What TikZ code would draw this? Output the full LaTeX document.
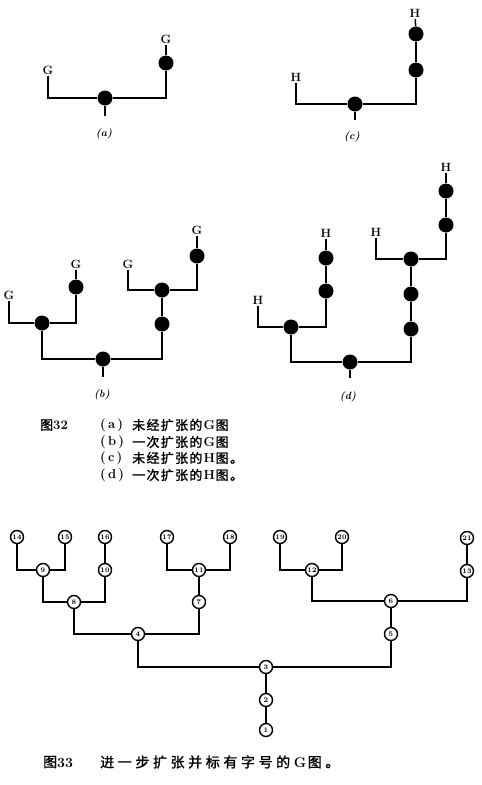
\documentclass[tikz,border=0pt]{standalone}
\usepackage{fontspec}
\newfontfamily\cjk[FakeBold=1.5]{Noto Sans CJK SC}
\newcommand\ca[1]{\makebox[14.3pt][l]{#1}}
\newcommand\cb[1]{\makebox[17.6pt][l]{#1}}
\begin{document}
\begin{tikzpicture}[x=1pt,y=-1pt,
  dot/.style={circle, fill=black, inner sep=0pt, minimum size=15pt},
  lbl/.style={font=\bfseries\fontsize{12}{12}\selectfont, inner sep=1.5pt},
  sub/.style={font=\bfseries\itshape\fontsize{10.5}{10.5}\selectfont, inner sep=0pt},
  num/.style={circle, draw, line width=1.4pt, inner sep=0pt, minimum size=13pt, font=\bfseries\fontsize{7}{7}\selectfont},
  wire/.style={line width=1.5pt},
  capa/.style={anchor=west, inner sep=0pt, font=\cjk\fontsize{13}{13}\selectfont},
  capb/.style={anchor=west, inner sep=0pt, font=\cjk\fontsize{14}{14}\selectfont},
  paren/.style={anchor=west, inner sep=0pt, font=\bfseries\fontsize{13}{13}\selectfont}]
\useasboundingbox (0,0) rectangle (482,785);

% ---------- (a)
\node[lbl] (Ga1) at (48,70) {G};
\node[dot] (a1) at (105,98) {};
\node[dot] (a2) at (166,63) {};
\node[lbl] (Ga2) at (166,39) {G};
\coordinate (a0) at (105,116);
\node[sub] (la) at (104,134) {(a)};
\draw[wire] (Ga1) |- (a1);
\draw[wire] (a1) -| (a2);
\draw[wire] (a2) -- (Ga2);
\draw[wire] (a1) -- (a0);

% ---------- (c)
\node[lbl] (Hc1) at (296,77) {H};
\node[dot] (c1) at (355,104) {};
\node[dot] (c2) at (416,70) {};
\node[dot] (c3) at (416,34) {};
\node[lbl] (Hc2) at (415,13) {H};
\coordinate (c0) at (355,120);
\node[sub] (lc) at (352,137) {(c)};
\draw[wire] (Hc1) |- (c1);
\draw[wire] (c1) -| (c2);
\draw[wire] (c2) -- (c3);
\draw[wire] (c3) -- (Hc2);
\draw[wire] (c1) -- (c0);

% ---------- (b)
\node[lbl] (Gb1) at (9,295) {G};
\node[lbl] (Gb2) at (76,264) {G};
\node[lbl] (Gb3) at (128,264) {G};
\node[lbl] (Gb4) at (197,230) {G};
\node[dot] (b1) at (42,323) {};
\node[dot] (b2) at (76,287) {};
\node[dot] (b3) at (103,359) {};
\node[dot] (b4) at (162,324) {};
\node[dot] (b5) at (162,290) {};
\node[dot] (b6) at (197,256) {};
\coordinate (b0) at (103,377);
\node[sub] (lb) at (102,395) {(b)};
\draw[wire] (Gb1) |- (b1);
\draw[wire] (b1) -| (b2);
\draw[wire] (b2) -- (Gb2);
\draw[wire] (b1) |- (b3);
\draw[wire] (b3) -| (b4);
\draw[wire] (b4) -- (b5);
\draw[wire] (Gb3) |- (b5);
\draw[wire] (b5) -| (b6);
\draw[wire] (b6) -- (Gb4);
\draw[wire] (b3) -- (b0);

% ---------- (d)
\node[lbl] (Hd0) at (258,300) {H};
\node[lbl] (Hd1) at (326,233) {H};
\node[lbl] (Hd2) at (376,232) {H};
\node[lbl] (Hd3) at (446,167) {H};
\node[dot] (d1) at (291,327) {};
\node[dot] (d2) at (326,291) {};
\node[dot] (d3) at (326,258) {};
\node[dot] (d4) at (350,362) {};
\node[dot] (d5) at (411,329) {};
\node[dot] (d6) at (411,294) {};
\node[dot] (d7) at (411,259) {};
\node[dot] (d8) at (446,225) {};
\node[dot] (d9) at (446,191) {};
\coordinate (d0) at (350,378);
\node[sub] (ld) at (348,397) {(d)};
\draw[wire] (Hd0) |- (d1);
\draw[wire] (d1) -| (d2);
\draw[wire] (d2) -- (d3);
\draw[wire] (d3) -- (Hd1);
\draw[wire] (d1) |- (d4);
\draw[wire] (d4) -| (d5);
\draw[wire] (d5) -- (d6);
\draw[wire] (d6) -- (d7);
\draw[wire] (Hd2) |- (d7);
\draw[wire] (d7) -| (d8);
\draw[wire] (d8) -- (d9);
\draw[wire] (d9) -- (Hd3);
\draw[wire] (d4) -- (d0);

% ---------- caption 32
\node[capa] (f32) at (40,425) {图\rmfamily\bfseries 32};
\node[paren] (pa) at (100,425) {(\,a\,)};
\node[paren] (pb) at (100,442) {(\,b\,)};
\node[paren] (pc) at (100,458) {(\,c\,)};
\node[paren] (pd) at (100,475) {(\,d\,)};
\node[capa] (ta) at (132,425) {\ca{未}\ca{经}\ca{扩}\ca{张}\ca{的}\makebox[12pt][l]{\rmfamily\bfseries G}\ca{图}};
\node[capa] (tb) at (132,442) {\ca{一}\ca{次}\ca{扩}\ca{张}\ca{的}\makebox[12pt][l]{\rmfamily\bfseries G}\ca{图}};
\node[capa] (tc) at (132,458) {\ca{未}\ca{经}\ca{扩}\ca{张}\ca{的}\makebox[12pt][l]{\rmfamily\bfseries H}\ca{图}\ca{。}};
\node[capa] (td) at (132,475) {\ca{一}\ca{次}\ca{扩}\ca{张}\ca{的}\makebox[12pt][l]{\rmfamily\bfseries H}\ca{图}\ca{。}};

% ---------- figure 33 tree
\node[num] (n14) at (17,537) {14};
\node[num] (n15) at (65,537) {15};
\node[num] (n16) at (105,537) {16};
\node[num] (n17) at (167,537) {17};
\node[num] (n18) at (230,537) {18};
\node[num] (n19) at (280,537) {19};
\node[num] (n20) at (342,537) {20};
\node[num] (n21) at (467,538) {21};
\node[num] (n9) at (43,570) {9};
\node[num] (n10) at (105,570) {10};
\node[num] (n11) at (199,570) {11};
\node[num] (n12) at (312,570) {12};
\node[num] (n13) at (467,571) {13};
\node[num] (n8) at (74,602) {8};
\node[num] (n7) at (199,602) {7};
\node[num] (n6) at (391,601) {6};
\node[num] (n4) at (138,634) {4};
\node[num] (n5) at (391,634) {5};
\node[num] (n3) at (266,667) {3};
\node[num] (n2) at (266,700) {2};
\node[num] (n1) at (266,730) {1};
\draw[wire] (n14) |- (n9);
\draw[wire] (n15) |- (n9);
\draw[wire] (n9) |- (n8);
\draw[wire] (n10) |- (n8);
\draw[wire] (n16) -- (n10);
\draw[wire] (n17) |- (n11);
\draw[wire] (n18) |- (n11);
\draw[wire] (n11) -- (n7);
\draw[wire] (n8) |- (n4);
\draw[wire] (n7) |- (n4);
\draw[wire] (n4) |- (n3);
\draw[wire] (n5) |- (n3);
\draw[wire] (n19) |- (n12);
\draw[wire] (n20) |- (n12);
\draw[wire] (n12) |- (n6);
\draw[wire] (n13) |- (n6);
\draw[wire] (n21) -- (n13);
\draw[wire] (n6) -- (n5);
\draw[wire] (n3) -- (n2);
\draw[wire] (n2) -- (n1);

% ---------- caption 33
\node[capb] (f33) at (43,762) {图\rmfamily\bfseries 33};
\node[capb] (t33) at (100,762) {\cb{进}\cb{一}\cb{步}\cb{扩}\cb{张}\cb{并}\cb{标}\cb{有}\cb{字}\cb{号}\cb{的}\makebox[14pt][l]{\rmfamily\bfseries G}\cb{图}\cb{。}};
\end{tikzpicture}
\end{document}
